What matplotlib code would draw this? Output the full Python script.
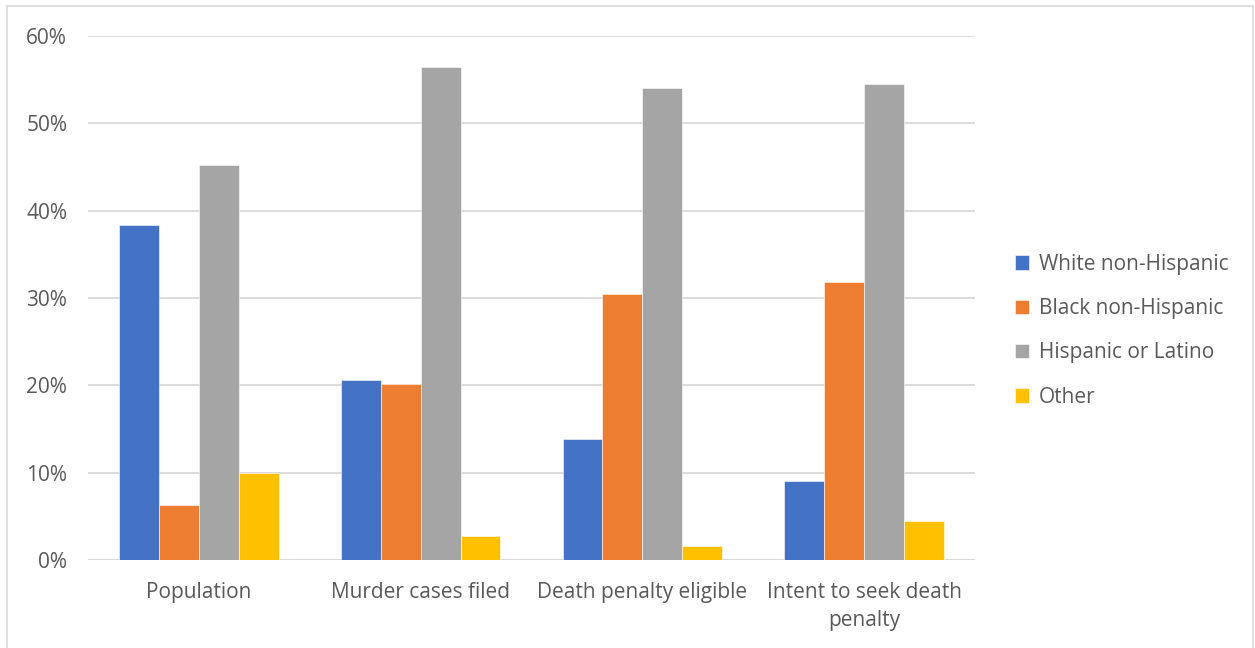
import matplotlib
matplotlib.use("Agg")
import matplotlib.pyplot as plt
import numpy as np
from matplotlib.patches import Rectangle
from matplotlib.ticker import FuncFormatter, MultipleLocator

categories = ["Population", "Murder cases filed", "Death penalty eligible", "Intent to seek death\npenalty"]
series_names = ["White non-Hispanic", "Black non-Hispanic", "Hispanic or Latino", "Other"]
white = [0.384, 0.206, 0.138, 0.091]
black = [0.063, 0.201, 0.305, 0.318]
hispanic = [0.452, 0.564, 0.541, 0.545]
other = [0.100, 0.027, 0.016, 0.045]
colors = ["#4472C4", "#ED7D31", "#A5A5A5", "#FFC000"]

plt.rcParams['font.family'] = ['Open Sans', 'DejaVu Sans']
text_color = "#595959"
fs = 15

fig = plt.figure(figsize=(12.55, 6.48), dpi=100)
ax = fig.add_axes([88/1255, 1-560/648, (975-88)/1255, (560-36)/648])

x = np.arange(len(categories))
w = 0.18
data = [white, black, hispanic, other]
for i, (vals, name, c) in enumerate(zip(data, series_names, colors)):
    ax.bar(x + (i - 1.5) * w, vals, width=w, color=c, label=name, zorder=3,
           edgecolor="white", linewidth=0.4)

ax.set_xlim(-0.5, len(categories) - 0.5)
ax.set_ylim(0, 0.6)
ax.yaxis.set_major_locator(MultipleLocator(0.1))
ax.yaxis.set_major_formatter(FuncFormatter(lambda v, p: f"{v*100:.0f}%"))
ax.grid(axis='y', color="#D9D9D9", linewidth=1.3, zorder=0)
for s in ax.spines.values():
    s.set_visible(False)
ax.axhline(0, color="#D9D9D9", linewidth=1.3, zorder=2)
ax.tick_params(axis='both', length=0, labelsize=fs, colors=text_color)
ax.tick_params(axis='y', pad=15)
ax.tick_params(axis='x', pad=16)
ax.set_xticks(x)
ax.set_xticklabels(categories, linespacing=1.45)

leg = fig.legend(loc='upper left', bbox_to_anchor=(996/1255, 1-235/648), frameon=False,
                 fontsize=fs, handlelength=0.7, handleheight=0.7, handletextpad=0.45,
                 labelspacing=1.12, labelcolor=text_color)

fig.patches.append(Rectangle((7/1255, -0.01), 1246/1255, 1-6/648+0.01, transform=fig.transFigure,
                             fill=False, edgecolor="#D9D9D9", linewidth=1.2))

fig.savefig("out.png", dpi=100)
